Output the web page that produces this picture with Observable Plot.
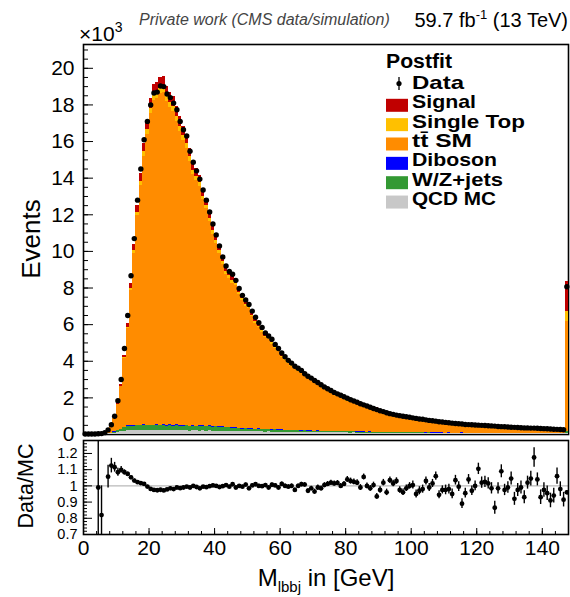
<!DOCTYPE html>
<html><head><meta charset="utf-8">
<script src="https://cdn.jsdelivr.net/npm/d3@7"></script>
<script src="https://cdn.jsdelivr.net/npm/@observablehq/plot@0.6"></script>
<style>
html,body{margin:0;padding:0;background:#fff;}
#wrap{position:relative;width:570px;height:597px;overflow:hidden;font-family:"Liberation Sans",Arial,Helvetica,sans-serif;}
#wrap svg{position:absolute;left:0;}
</style></head><body><div id="wrap"></div>
<script>
// ---- bins: 1 GeV wide, bin 147 = overflow ----
const binLow = d3.range(0, 148);

// Data, in units of 10^3 events
const dataVals = [0.03,0.03,0.03,0.03,0.04,0.05,0.1,0.25,0.53,1.0,
1.85,3.0,4.7,6.5,8.67,10.7,12.8,14.5,16.1,17.1,
18.0,18.65,18.7,19.03,19.0,18.6,18.4,18.1,17.74,17.1,
16.64,16.3,15.47,14.87,14.4,13.95,13.35,12.8,12.15,11.5,
10.9,10.3,9.7,9.2,8.9,8.75,8.42,7.98,7.6,7.35,
7.1,6.74,6.4,6.1,5.85,5.55,5.38,5.2,4.92,4.7,
4.45,4.25,4.05,3.9,3.73,3.62,3.5,3.32,3.18,3.08,
2.95,2.84,2.72,2.6,2.5,2.4,2.3,2.22,2.14,2.06,
1.98,1.9,1.83,1.76,1.68,1.62,1.56,1.49,1.42,1.36,
1.3,1.25,1.19,1.14,1.1,1.06,1.03,1.0,0.97,0.94,
0.91,0.88,0.85,0.83,0.8,0.77,0.75,0.73,0.7,0.68,
0.66,0.64,0.62,0.6,0.59,0.57,0.55,0.54,0.53,0.52,
0.51,0.5,0.49,0.48,0.47,0.46,0.44,0.43,0.42,0.41,
0.4,0.39,0.38,0.37,0.36,0.36,0.35,0.35,0.34,0.33,
0.32,0.31,0.3,0.29,0.28,0.27,0.26,8.07];

// Data/MC ratio and its uncertainty
const ratioVals = [null,null,null,null,0.99,0.82,null,1.057,1.125,1.115,
1.084,1.099,1.084,1.074,1.053,1.033,1.023,1.017,1.012,0.996,
0.981,0.975,0.973,0.976,0.972,0.978,0.985,0.98,0.99,0.986,
0.99,0.995,0.99,1.0,0.993,0.985,0.995,0.992,0.998,1.003,
1.0,0.993,0.998,1.005,0.995,1.01,0.99,1.0,0.995,1.008,
0.985,1.003,1.01,1.0,0.998,1.005,0.99,1.007,1.003,0.99,
1.012,1.0,0.995,1.0,0.975,1.0,1.01,1.008,0.97,0.985,
0.965,0.99,0.985,1.005,1.012,1.02,1.015,1.018,1.0,1.012,
1.04,1.03,1.025,1.02,0.99,1.055,1.0,0.985,1.005,0.935,
0.975,1.02,0.96,1.035,1.015,1.03,0.975,0.96,0.985,1.0,
1.005,0.95,0.97,0.98,1.03,0.99,1.015,1.06,0.945,0.975,
0.975,0.98,0.95,1.035,0.995,0.89,0.955,1.04,0.97,1.0,
1.105,1.02,1.025,1.015,0.985,0.865,0.985,1.09,0.975,0.99,
1.045,0.92,0.975,0.99,0.93,1.02,1.045,1.175,1.04,0.93,
0.975,0.955,0.91,0.94,1.06,0.98,0.915,0.96];
const ratioErr = [null,null,null,null,0.3,0.18,null,0.07,0.045,0.03,
0.025,0.02,0.015,0.012,0.01,0.01,0.009,0.008,0.008,0.008,
0.008,0.008,0.008,0.008,0.008,0.008,0.008,0.008,0.008,0.008,
0.008,0.008,0.008,0.008,0.008,0.008,0.008,0.008,0.008,0.008,
0.009,0.009,0.009,0.009,0.009,0.009,0.009,0.009,0.009,0.009,
0.01,0.01,0.01,0.01,0.01,0.01,0.01,0.01,0.01,0.01,
0.012,0.012,0.012,0.012,0.012,0.012,0.012,0.012,0.012,0.012,
0.015,0.015,0.015,0.015,0.015,0.015,0.015,0.015,0.015,0.015,
0.018,0.018,0.018,0.018,0.018,0.018,0.018,0.018,0.018,0.018,
0.02,0.02,0.02,0.02,0.02,0.02,0.02,0.02,0.02,0.02,
0.025,0.025,0.025,0.025,0.025,0.025,0.025,0.025,0.025,0.025,
0.03,0.03,0.03,0.03,0.03,0.03,0.03,0.03,0.03,0.03,
0.035,0.035,0.035,0.035,0.035,0.04,0.035,0.04,0.035,0.035,
0.04,0.04,0.04,0.04,0.04,0.04,0.045,0.06,0.04,0.045,
0.045,0.045,0.045,0.045,0.05,0.045,0.045,0.012];

// MC components (10^3 events)
const ttSM = [0,0,0,0,0.03,0.045,0.055,0.186,0.375,0.717,
1.415,2.317,3.736,5.31,7.373,9.402,11.439,13.106,14.663,15.886,
17.013,17.767,17.824,18.121,18.137,17.672,17.319,17.158,16.593,16.073,
15.562,15.145,14.463,13.711,13.389,13.055,12.343,11.882,11.156,10.53,
9.96,9.496,8.852,8.352,8.142,7.903,7.762,7.281,6.964,6.624,
6.574,6.088,5.752,5.516,5.308,4.994,4.91,4.672,4.414,4.284,
3.949,3.819,3.647,3.505,3.414,3.237,3.099,2.926,2.931,2.776,
2.729,2.54,2.447,2.281,2.179,2.067,1.984,1.913,1.884,1.784,
1.668,1.612,1.555,1.507,1.481,1.327,1.36,1.305,1.229,1.259,
1.153,1.05,1.064,0.931,0.925,0.863,0.899,0.885,0.831,0.798,
0.765,0.784,0.737,0.709,0.652,0.643,0.616,0.568,0.618,0.576,
0.567,0.534,0.544,0.474,0.486,0.521,0.47,0.426,0.441,0.427,
0.371,0.398,0.386,0.382,0.386,0.438,0.357,0.307,0.341,0.326,
0.296,0.335,0.302,0.287,0.30,0.267,0.25,0.225,0.242,0.269,
0.253,0.25,0.255,0.235,0.192,0.203,0.211,6.0];
const signal = [0,0,0,0,0.001,0.002,0.002,0.007,0.014,0.027,
0.051,0.082,0.13,0.182,0.247,0.311,0.375,0.428,0.477,0.515,
0.55,0.574,0.577,0.585,0.586,0.571,0.56,0.554,0.538,0.52,
0.504,0.491,0.469,0.446,0.435,0.425,0.403,0.387,0.365,0.344,
0.327,0.311,0.292,0.275,0.268,0.26,0.255,0.239,0.229,0.219,
0.216,0.202,0.19,0.183,0.176,0.166,0.163,0.155,0.147,0.142,
0.132,0.128,0.122,0.117,0.115,0.109,0.104,0.099,0.098,0.094,
0.092,0.086,0.083,0.078,0.074,0.071,0.068,0.065,0.064,0.061,
0.057,0.055,0.054,0.052,0.051,0.046,0.047,0.045,0.042,0.044,
0.04,0.037,0.037,0.033,0.033,0.031,0.032,0.031,0.03,0.028,
0.027,0.028,0.026,0.025,0.023,0.023,0.022,0.021,0.022,0.021,
0.02,0.02,0.02,0.017,0.018,0.019,0.017,0.016,0.016,0.016,
0.014,0.015,0.014,0.014,0.014,0.016,0.013,0.012,0.013,0.012,
0.011,0.013,0.012,0.011,0.012,0.011,0.01,0.009,0.01,0.011,
0.01,0.01,0.01,0.009,0.008,0.008,0.009,1.65];
const singleTop = [0,0,0,0,0.001,0.001,0.002,0.004,0.007,0.013,
0.026,0.041,0.065,0.091,0.124,0.155,0.188,0.214,0.239,0.258,
0.275,0.287,0.288,0.292,0.293,0.285,0.28,0.277,0.269,0.26,
0.252,0.246,0.234,0.223,0.218,0.212,0.201,0.194,0.183,0.172,
0.164,0.156,0.146,0.137,0.134,0.13,0.128,0.12,0.115,0.109,
0.108,0.101,0.095,0.092,0.088,0.083,0.082,0.077,0.074,0.071,
0.066,0.064,0.061,0.059,0.057,0.054,0.052,0.049,0.049,0.047,
0.046,0.043,0.041,0.039,0.037,0.035,0.034,0.033,0.032,0.031,
0.029,0.028,0.027,0.026,0.025,0.023,0.023,0.023,0.021,0.022,
0.02,0.018,0.019,0.017,0.016,0.015,0.016,0.016,0.015,0.014,
0.014,0.014,0.013,0.013,0.012,0.012,0.011,0.01,0.011,0.01,
0.01,0.01,0.01,0.009,0.009,0.01,0.009,0.008,0.008,0.008,
0.007,0.007,0.007,0.007,0.007,0.008,0.007,0.006,0.006,0.006,
0.006,0.006,0.006,0.006,0.006,0.005,0.005,0.004,0.005,0.005,
0.005,0.005,0.005,0.005,0.004,0.004,0.004,0.55];
const diboson = [0,0,0,0,0,0,0,0,0.005,0.01,
0.015,0.02,0.025,0.03,0.03,0.03,0.03,0.03,0.03,0.03,
0.03,0.03,0.03,0.03,0.03,0.03,0.03,0.03,0.03,0.03,
0.03,0.03,0.03,0.03,0.03,0.03,0.03,0.03,0.03,0.03,
0.03,0.03,0.03,0.03,0.03,0.03,0.03,0.03,0.03,0.03,
0.03,0.03,0.03,0.03,0.03,0.02,0.02,0.02,0.02,0.02,
0.02,0.02,0.02,0.02,0.02,0.02,0.02,0.02,0.02,0.02,
0.02,0.02,0.02,0.02,0.02,0.02,0.02,0.02,0.01,0.01,
0.01,0.01,0.01,0.01,0.01,0.01,0.01,0.01,0.01,0.01,
0.01,0.01,0.01,0.01,0.01,0.01,0.01,0.01,0.01,0.01,
0.01,0.01,0.01,0.01,0.01,0.01,0.01,0.01,0.01,0.01,
0.01,0.01,0.01,0.01,0.01,0.01,0.01,0.01,0.01,0.01,
0.01,0.01,0.01,0.01,0.01,0.01,0.01,0.01,0.01,0.01,
0.01,0.01,0.01,0.01,0.01,0.01,0.01,0.01,0.01,0.01,
0.01,0.01,0.01,0.01,0.01,0.01,0.01,0.01];
const wzJets = [0,0,0,0,0,0,0,0.01,0.02,0.05,
0.08,0.12,0.2,0.24,0.26,0.25,0.28,0.26,0.3,0.27,
0.28,0.25,0.29,0.27,0.28,0.26,0.28,0.25,0.27,0.26,
0.25,0.27,0.24,0.26,0.23,0.25,0.24,0.22,0.24,0.21,
0.23,0.2,0.22,0.19,0.2,0.18,0.17,0.16,0.15,0.16,
0.14,0.15,0.13,0.14,0.12,0.13,0.12,0.11,0.12,0.1,
0.11,0.1,0.1,0.09,0.1,0.09,0.08,0.09,0.08,0.08,
0.07,0.08,0.07,0.07,0.07,0.06,0.07,0.06,0.06,0.06,
0.05,0.06,0.05,0.05,0.05,0.05,0.04,0.05,0.04,0.04,
0.04,0.04,0.04,0.04,0.03,0.04,0.04,0.03,0.04,0.03,
0.03,0.03,0.03,0.03,0.03,0.03,0.03,0.03,0.03,0.03,
0.02,0.03,0.02,0.02,0.02,0.03,0.02,0.02,0.02,0.02,
0.02,0.02,0.02,0.02,0.02,0.02,0.02,0.02,0.02,0.02,
0.02,0.02,0.02,0.02,0.02,0.02,0.02,0.02,0.02,0.02,
0.02,0.02,0.02,0.02,0.02,0.02,0.02,0.08];
const qcdMC = [0,0,0,0,0.005,0.01,0.01,0.03,0.05,0.08,
0.12,0.15,0.18,0.2,0.2,0.21,0.2,0.22,0.2,0.21,
0.2,0.22,0.21,0.2,0.22,0.2,0.21,0.2,0.22,0.2,
0.21,0.2,0.19,0.2,0.2,0.19,0.2,0.19,0.2,0.18,
0.19,0.18,0.18,0.17,0.17,0.16,0.16,0.15,0.15,0.15,
0.14,0.15,0.14,0.14,0.14,0.13,0.14,0.13,0.13,0.13,
0.12,0.12,0.12,0.11,0.12,0.11,0.11,0.11,0.1,0.11,
0.1,0.1,0.1,0.1,0.09,0.1,0.09,0.09,0.09,0.09,
0.09,0.08,0.09,0.08,0.08,0.08,0.08,0.08,0.07,0.08,
0.07,0.07,0.07,0.07,0.07,0.07,0.06,0.07,0.06,0.06,
0.06,0.06,0.06,0.06,0.05,0.06,0.05,0.05,0.05,0.05,
0.05,0.05,0.05,0.05,0.05,0.05,0.05,0.04,0.05,0.04,
0.04,0.04,0.04,0.04,0.04,0.04,0.04,0.04,0.04,0.04,
0.04,0.04,0.04,0.04,0.04,0.04,0.04,0.03,0.04,0.04,
0.03,0.03,0.03,0.03,0.03,0.03,0.03,0.06];

// ticks
const yTicksMain = [0,2,4,6,8,10,12,14,16,18,20];
const xTicks = [0,20,40,60,80,100,120,140];
const yTicksRatio = [0.7,0.8,0.9,1,1.1,1.2];

// legend (top to bottom) and stack (bottom to top)
const legendNames = ["Signal","Single Top","tt\u0304 SM","Diboson","W/Z+jets","QCD MC"];
const legendColors = ["#c00000","#ffc000","#ff8c00","#0000ff","#339933","#c8c8c8"];
const stackLayers = [qcdMC, wzJets, diboson, ttSM, singleTop, signal];
const stackColors = ["#c8c8c8","#339933","#0000ff","#ff8c00","#ffc000","#c00000"];

const FONT = '"Liberation Sans", Arial, Helvetica, sans-serif';
const X0 = 83, XR = 2, FW = 570 - X0 - XR;

// build stacked rects
const cum = binLow.map(() => 0);
const layerRows = stackLayers.map((vals) => binLow.map((b, i) => {
  const y1 = cum[i]; const y2 = y1 + vals[i]; cum[i] = y2;
  return {x1: b, x2: b + 1, y1, y2};
}).filter(r => r.y2 > r.y1));

const dataRows = binLow.map((b, i) => ({x: b + 0.5, y: dataVals[i]}));
const ratioRows = binLow.map((b, i) => ({x: b + 0.5, r: ratioVals[i], e: ratioErr[i]})).filter(d => d.r != null);

const MAIN_TOP = 44, MAIN_BOT = 434;
const main = Plot.plot({
  width: 570, height: MAIN_BOT + 1,
  marginLeft: X0, marginRight: XR, marginTop: MAIN_TOP, marginBottom: 1,
  x: {domain: [0, 148], axis: null, label: null},
  y: {domain: [0, 21.3], label: null},
  style: {fontFamily: FONT, background: "transparent", overflow: "visible"},
  marks: [
    Plot.frame({stroke: "black", strokeWidth: 1.6}),
    ...layerRows.map((rows, k) => Plot.rect(rows, {x1: "x1", x2: "x2", y1: "y1", y2: "y2", fill: stackColors[k], shapeRendering: "crispEdges"})),
    Plot.tickY(d3.range(0, 21.3, 0.5), {y: d => d, stroke: "black", strokeWidth: 1, insetRight: FW - 5}),
    Plot.tickY(yTicksMain, {y: d => d, stroke: "black", strokeWidth: 1, insetRight: FW - 10}),
    Plot.axisY(yTicksMain, {tickSize: 0, tickPadding: 9, fontSize: 21, label: null, tickFormat: d => String(d)}),
    Plot.dot(dataRows, {x: "x", y: "y", r: 2.7, fill: "black"})
  ]
});
main.style.top = "0px";

const R_TOP = 440, R_BOT = 534, R_SVG_TOP = 430;
const ratio = Plot.plot({
  width: 570, height: 167,
  marginLeft: X0, marginRight: XR, marginTop: R_TOP - R_SVG_TOP, marginBottom: 167 - (R_BOT - R_SVG_TOP),
  x: {domain: [0, 148], label: null},
  y: {domain: [0.7, 1.28], label: null},
  style: {fontFamily: FONT, background: "transparent", overflow: "visible"},
  marks: [
    Plot.ruleY([1], {stroke: "#b9b9b9", strokeWidth: 1.2}),
    Plot.ruleX(ratioRows, {x: "x", y1: d => d.r - d.e, y2: d => d.r + d.e, stroke: "black", strokeWidth: 1.4, clip: true}),
    Plot.dot(ratioRows, {x: "x", y: "r", r: 2.4, fill: "black", clip: true}),
    Plot.tickY(d3.range(0.7, 1.28, 0.02), {y: d => d, stroke: "black", insetRight: FW - 4}),
    Plot.tickY(yTicksRatio, {y: d => d, stroke: "black", insetRight: FW - 9}),
    Plot.tickX(d3.range(0, 148, 4), {x: d => d, stroke: "black", insetTop: (R_BOT - R_TOP) - 3}),
    Plot.tickX(xTicks, {x: d => d, stroke: "black", insetTop: (R_BOT - R_TOP) - 6}),
    Plot.axisY(yTicksRatio, {tickSize: 0, tickPadding: 6, fontSize: 14.5, label: null, tickFormat: d3.format("~g")}),
    Plot.axisX(xTicks, {tickSize: 0, tickPadding: 6, fontSize: 21, label: null, tickFormat: d => String(d)}),
    Plot.frame({stroke: "black", strokeWidth: 1.6})
  ]
});
ratio.style.top = R_SVG_TOP + "px";

const wrap = document.getElementById("wrap");
wrap.append(main, ratio);

// ---- text overlay: header, axis titles, legend ----
const ov = d3.create("svg").attr("width", 570).attr("height", 597)
  .style("top", "0px").style("font-family", FONT).style("pointer-events", "none");

const t1 = ov.append("text").attr("x", 79).attr("y", 41).attr("font-size", 21);
t1.append("tspan").text("\u00d710");
t1.append("tspan").attr("dy", -9).attr("font-size", 14).text("3");

ov.append("text").attr("x", 139).attr("y", 25).attr("font-size", 16)
  .attr("font-style", "italic").attr("fill", "#444").text("Private work (CMS data/simulation)");

const t2 = ov.append("text").attr("x", 568).attr("y", 27).attr("font-size", 20).attr("text-anchor", "end");
t2.append("tspan").text("59.7 fb");
t2.append("tspan").attr("dy", -8).attr("font-size", 13).text("-1");
t2.append("tspan").attr("dy", 8).text(" (13 TeV)");

ov.append("text").attr("transform", "translate(40,239) rotate(-90)").attr("text-anchor", "middle")
  .attr("font-size", 26).text("Events");
ov.append("text").attr("transform", "translate(33,486) rotate(-90)").attr("text-anchor", "middle")
  .attr("font-size", 21.5).text("Data/MC");

const xt = ov.append("text").attr("x", 326).attr("y", 586).attr("text-anchor", "middle").attr("font-size", 24);
xt.append("tspan").text("M");
xt.append("tspan").attr("dy", 6).attr("font-size", 15).text("lbbj");
xt.append("tspan").attr("dy", -6).text(" in [GeV]");

// legend
const LFS = 19;
ov.append("text").attr("x", 386).attr("y", 68.3).attr("font-size", LFS + 1).attr("font-weight", "bold")
  .attr("textLength", 66).attr("lengthAdjust", "spacingAndGlyphs").text("Postfit");
ov.append("line").attr("x1", 399).attr("x2", 399).attr("y1", 77).attr("y2", 90).attr("stroke", "black").attr("stroke-width", 1.3);
ov.append("circle").attr("cx", 399).attr("cy", 83.5).attr("r", 2.6).attr("fill", "black");
ov.append("text").attr("x", 412).attr("y", 88.8).attr("font-size", LFS).attr("font-weight", "bold")
  .attr("textLength", 52).attr("lengthAdjust", "spacingAndGlyphs").text("Data");
const legendWidths = [64, 113, 60, 85, 91, 84];
const base0 = 108.3, pitch = 19.35;
legendNames.forEach((name, k) => {
  const yb = base0 + k * pitch;
  ov.append("rect").attr("x", 386).attr("y", yb - 9.5).attr("width", 22).attr("height", 13).attr("fill", legendColors[k]);
  ov.append("text").attr("x", 412).attr("y", yb).attr("font-size", LFS).attr("font-weight", "bold")
    .attr("textLength", legendWidths[k]).attr("lengthAdjust", "spacingAndGlyphs").text(name);
});
wrap.append(ov.node());
</script></body></html>
